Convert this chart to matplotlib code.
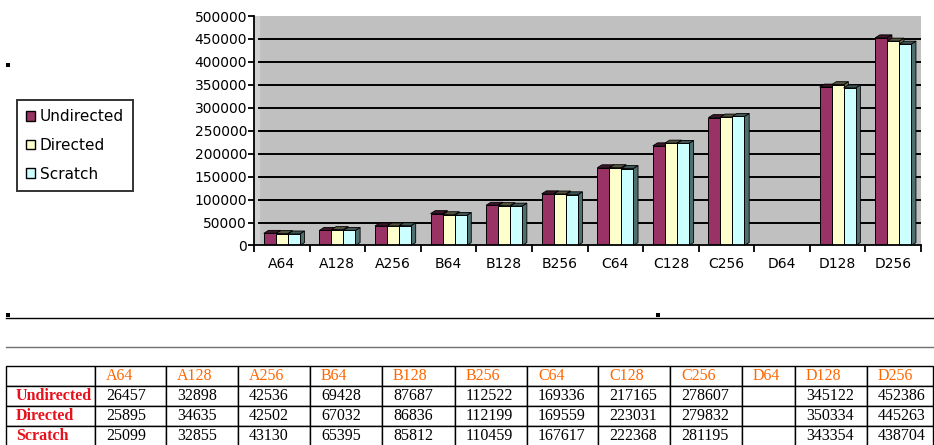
import numpy as np
import matplotlib
matplotlib.use("Agg")
import matplotlib.pyplot as plt
from matplotlib.patches import Rectangle, Polygon, Patch
from matplotlib.lines import Line2D

cats = ['A64', 'A128', 'A256', 'B64', 'B128', 'B256', 'C64', 'C128', 'C256', 'D64', 'D128', 'D256']
undirected = [26457, 32898, 42536, 69428, 87687, 112522, 169336, 217165, 278607, None, 345122, 452386]
directed = [25895, 34635, 42502, 67032, 86836, 112199, 169559, 223031, 279832, None, 350334, 445263]
scratch = [25099, 32855, 43130, 65395, 85812, 110459, 167617, 222368, 281195, None, 343354, 438704]
names = ['Undirected', 'Directed', 'Scratch']
yticks = list(range(0, 500001, 50000))

front_col = ['#993366', '#FFFFCC', '#CCFFFF']
top_col = ['#3d1429', '#55553f', '#3f5555']
side_col = ['#4c1933', '#6f6f58', '#4f6f6f']

W, H = 934, 445
fig = plt.figure(figsize=(W / 100, H / 100), dpi=100)

def fx(x):
    return x / W

def fy(y):
    return 1 - y / H

# chart
ax = fig.add_axes([fx(254), fy(245.5), (921 - 254) / W, (245.5 - 16) / H])
ax.set_facecolor('#C0C0C0')
ax.set_xlim(-0.5, 11.5)
ax.set_ylim(0, 500000)
# lighter side wall strip on the left
ax.axvspan(-0.5, -0.41, color='#D0D0D0', zorder=0.5)
for t in yticks[1:-1]:
    ax.axhline(t, xmin=0.008, color='black', lw=1.4, zorder=1)

w = 0.216
dx = 0.085
dy = 6500
for j, vals in enumerate([undirected, directed, scratch]):
    for i, v in enumerate(vals):
        if v is None:
            continue
        x0 = i + (j - 1.5) * w
        x1 = x0 + w
        z = 3 + j * 0.1
        ax.add_patch(Polygon([(x1, 0), (x1 + dx, dy), (x1 + dx, v + dy), (x1, v)],
                             closed=True, fc=side_col[j], ec='black', lw=0.6, zorder=z))
        ax.add_patch(Polygon([(x0, v), (x1, v), (x1 + dx, v + dy), (x0 + dx, v + dy)],
                             closed=True, fc=top_col[j], ec='black', lw=0.6, zorder=z))
        ax.add_patch(Rectangle((x0, 0), w, v, fc=front_col[j], ec='black', lw=0.7, zorder=z + 0.05))

ax.spines['top'].set_visible(False)
ax.spines['right'].set_visible(False)
ax.spines['left'].set_linewidth(1.3)
ax.spines['bottom'].set_linewidth(1.3)
ax.spines['left'].set_zorder(10)
ax.spines['bottom'].set_zorder(10)
ax.set_yticks(yticks)
ax.set_yticklabels([str(t) for t in yticks], fontsize=10, family='DejaVu Sans')
ax.set_xticks(range(len(cats)))
ax.set_xticklabels(cats, fontsize=10, family='DejaVu Sans')
ax.set_xticks(np.arange(-0.5, 12, 1.0), minor=True)
ax.tick_params(axis='y', direction='out', length=4, width=1.3, pad=1)
ax.tick_params(axis='x', which='major', length=0, pad=8)
ax.tick_params(axis='x', which='minor', direction='out', length=5, width=1.3)

# legend
handles = [Patch(fc=front_col[k], ec='black', lw=1) for k in range(3)]
leg = fig.legend(handles, names, loc='upper left', bbox_to_anchor=(fx(17), fy(100)),
                 bbox_transform=fig.transFigure, frameon=True, fancybox=False,
                 edgecolor='black', prop={'family': 'DejaVu Sans', 'size': 11},
                 handlelength=0.6, handleheight=0.6, handletextpad=0.3,
                 labelspacing=0.9, borderpad=0.6, borderaxespad=0)
leg.get_frame().set_linewidth(1.4)

# decorations
for (sx, sy) in [(6, 63), (6, 313), (656, 313)]:
    fig.add_artist(Rectangle((fx(sx), fy(sy + 4)), 4 / W, 4 / H, fc='black', ec='none',
                             transform=fig.transFigure))
fig.add_artist(Line2D([fx(6), fx(934)], [fy(318), fy(318)], color='black', lw=1,
                      transform=fig.transFigure))
fig.add_artist(Line2D([fx(6), fx(934)], [fy(347), fy(347)], color='#707070', lw=1,
                      transform=fig.transFigure))

# table
col_px = [89, 71, 72, 72, 72, 73, 72, 71, 72, 72, 53, 72, 66]
rows = [[''] + cats]
for name, vals in zip(names, [undirected, directed, scratch]):
    rows.append([name] + ['' if v is None else str(v) for v in vals])

tax = fig.add_axes([fx(6), fy(446), (933 - 6) / W, 80 / H])
tax.axis('off')
tbl = tax.table(cellText=rows, colWidths=[c / sum(col_px) for c in col_px],
                cellLoc='left', bbox=[0, 0, 1, 1])
tbl.auto_set_font_size(False)
tbl.set_fontsize(11.5)
for (r, c), cell in tbl.get_celld().items():
    cell.set_edgecolor('black')
    cell.set_linewidth(1)
    cell.PAD = (10 if c == 0 else 11) / col_px[c]
    txt = cell.get_text()
    txt.set_family('Liberation Serif')
    if r == 0:
        txt.set_color('#FF6600')
    elif c == 0:
        txt.set_color('#E8101A')
        txt.set_weight('bold')
    else:
        txt.set_color('black')

fig.savefig('out.png', dpi=100)
